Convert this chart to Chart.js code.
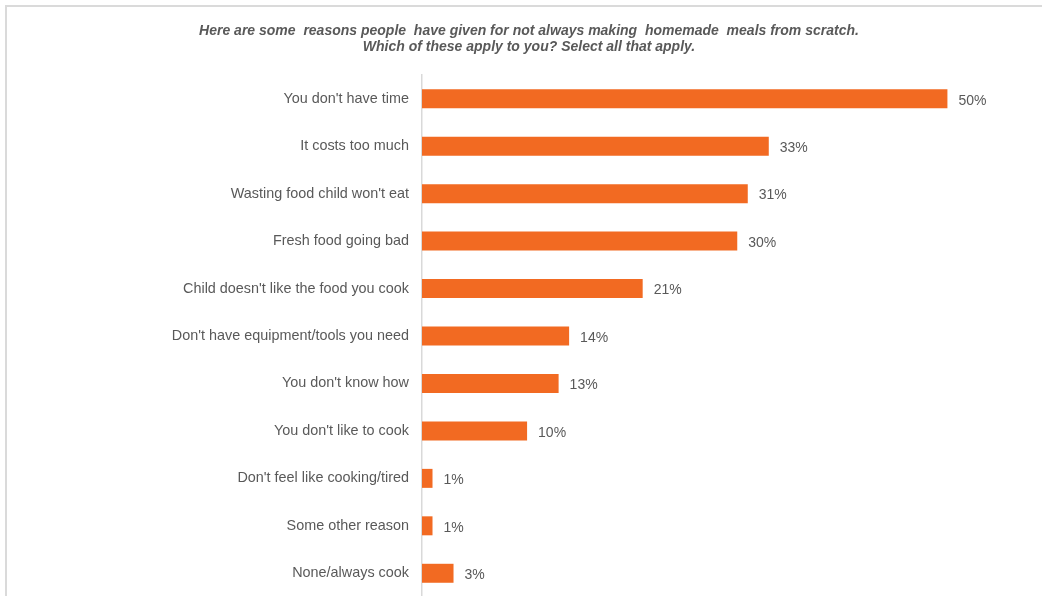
<!DOCTYPE html>
<html lang="en">
<head>
  <meta charset="UTF-8" />
  <title>Reasons for not cooking from scratch</title>
  <script src="https://cdn.jsdelivr.net/npm/chart.js"></script>
  <style>
    * { box-sizing: border-box; margin: 0; padding: 0; }
    body { background: #fff; width: 1042px; height: 596px; overflow: hidden; position: relative; }
    .frame { position: absolute; left: 5px; top: 5px; width: 1100px; height: 700px; border-left: 2px solid #dadada; border-top: 2px solid #dadada; }
    #chart { position: absolute; left: 0; top: 0; }
  </style>
</head>
<body>
  <div class="frame"></div>
  <canvas id="chart" width="1042" height="597"></canvas>

  <script>
    const reasons = [
      "You don't have time",
      'It costs too much',
      "Wasting food child won't eat",
      'Fresh food going bad',
      "Child doesn't like the food you cook",
      "Don't have equipment/tools you need",
      "You don't know how",
      "You don't like to cook",
      "Don't feel like cooking/tired",
      'Some other reason',
      'None/always cook'
    ];
    const shares = [50, 33, 31, 30, 21, 14, 13, 10, 1, 1, 3];
    const titleLines = [
      'Here are some  reasons people  have given for not always making  homemade  meals from scratch.',
      'Which of these apply to you? Select all that apply.'
    ];

    const grey = '#595959';
    const orange = '#f26a22';

    // percent labels next to each bar end
    const valueLabels = {
      id: 'valueLabels',
      afterDatasetsDraw(chart) {
        const ctx = chart.ctx;
        const meta = chart.getDatasetMeta(0);
        ctx.save();
        ctx.font = '14px "Liberation Sans", Arial, sans-serif';
        ctx.fillStyle = grey;
        ctx.textAlign = 'left';
        ctx.textBaseline = 'middle';
        meta.data.forEach((bar, i) => {
          ctx.fillText(shares[i] + '%', bar.x + 11, bar.y + 2);
        });
        ctx.restore();
      }
    };

    new Chart(document.getElementById('chart'), {
      type: 'bar',
      data: {
        labels: reasons,
        datasets: [{
          data: shares,
          backgroundColor: orange,
          barPercentage: 0.4,
          categoryPercentage: 1
        }]
      },
      options: {
        indexAxis: 'y',
        responsive: false,
        animation: false,
        layout: { padding: { left: 16, right: 0, top: 0, bottom: 0 } },
        plugins: {
          legend: { display: false },
          tooltip: { enabled: false },
          title: {
            display: true,
            text: titleLines,
            color: grey,
            font: { family: '"Liberation Sans", Arial, sans-serif', size: 14, weight: 'bold', style: 'italic', lineHeight: 16 / 14 },
            padding: { top: 23, bottom: 20 }
          }
        },
        scales: {
          x: {
            display: false,
            min: 0,
            max: 59
          },
          y: {
            grid: { display: false, drawTicks: false },
            border: { display: true, color: '#d9d9d9', width: 1.5 },
            ticks: {
              color: grey,
              padding: 13,
              font: { family: '"Liberation Sans", Arial, sans-serif', size: 14.4 }
            },
            afterFit(scale) {
              // fixed label column, axis runs down to the bottom edge
              scale.width = 406;
              scale.paddingTop = 0;
              scale.paddingBottom = 0;
            }
          }
        }
      },
      plugins: [valueLabels]
    });
  </script>
</body>
</html>
